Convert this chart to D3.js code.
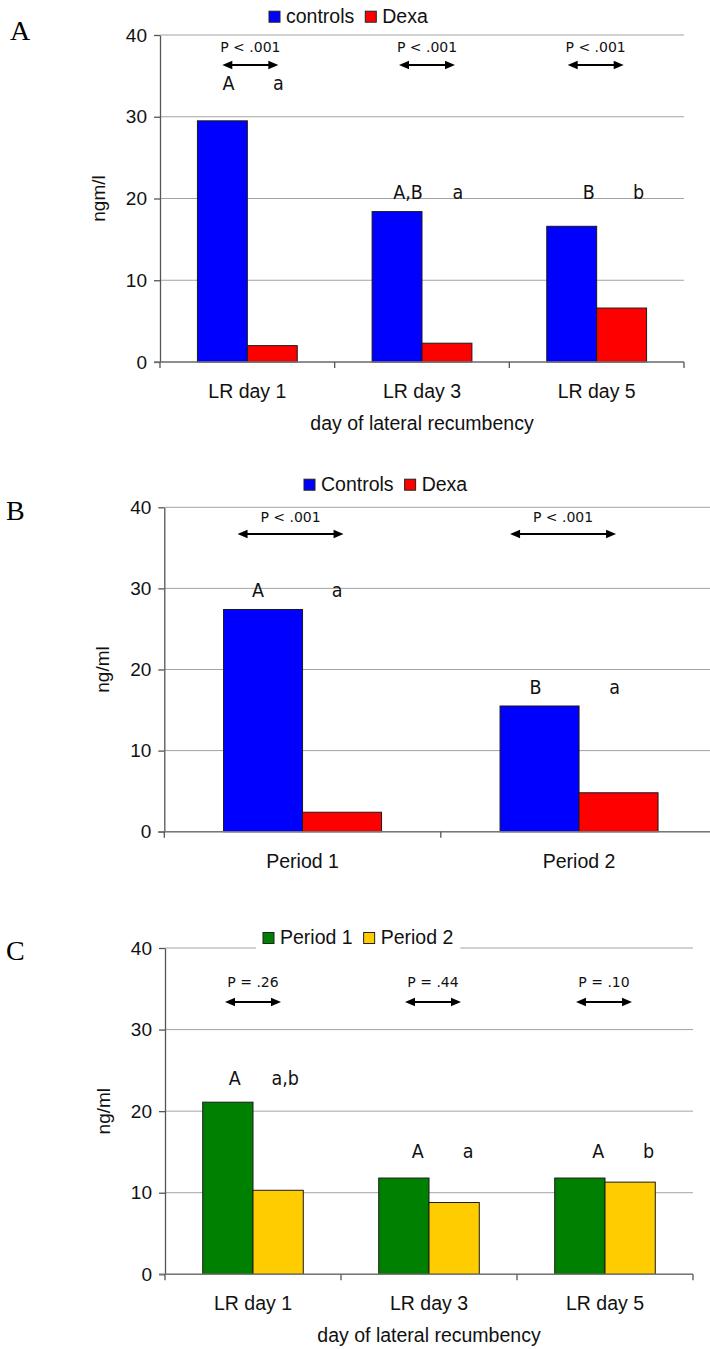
<!DOCTYPE html>
<html>
<head>
<meta charset="utf-8">
<script src="https://cdn.jsdelivr.net/npm/d3@7"></script>
<style>
  body { margin: 0; background: #fff; }
  svg { display: block; }
</style>
</head>
<body>
<svg id="fig" width="710" height="1349"></svg>
<script>
// ---- data ----
const yTicks = [0, 10, 20, 30, 40];

// Panel A: controls vs Dexa by day of lateral recumbency
const daysLR = ["LR day 1", "LR day 3", "LR day 5"];
const seriesA = ["controls", "Dexa"];
const controlsA = [29.5, 18.4, 16.6];
const dexaA = [2.0, 2.3, 6.6];
const lettersControlsA = ["A", "A,B", "B"];
const lettersDexaA = ["a", "a", "b"];
const pValuesA = ["P < .001", "P < .001", "P < .001"];

// Panel B: controls vs Dexa by period
const periods = ["Period 1", "Period 2"];
const seriesB = ["Controls", "Dexa"];
const controlsB = [27.4, 15.5];
const dexaB = [2.4, 4.8];
const lettersControlsB = ["A", "B"];
const lettersDexaB = ["a", "a"];
const pValuesB = ["P < .001", "P < .001"];

// Panel C: period 1 vs period 2 by day of lateral recumbency
const seriesC = ["Period 1", "Period 2"];
const period1C = [21.1, 11.8, 11.8];
const period2C = [10.3, 8.8, 11.3];
const lettersPeriod1C = ["A", "A", "A"];
const lettersPeriod2C = ["a,b", "a", "b"];
const pValuesC = ["P = .26", "P = .44", "P = .10"];

// ---- layout & styling ----
const SANS = "'Liberation Sans', Arial, sans-serif";
const COND = "'DejaVu Sans Condensed', 'DejaVu Sans', sans-serif";
const TAHOMA = "'DejaVu Sans', Verdana, sans-serif";
const SERIF = "'Liberation Serif', 'Times New Roman', serif";

const panels = [
  {
    tag: "A", tagX: 10, tagY: 40,
    left: 160, top: 35, width: 524, height: 327,
    categories: daysLR, series: seriesA, values: [controlsA, dexaA],
    letters: [lettersControlsA, lettersDexaA], pValues: pValuesA,
    colors: ["#0000ff", "#ff0000"],
    yTitle: "ngm/l", xTitle: "day of lateral recumbency",
    legendX: 269, legendY: 22.7, legendBg: false,
    letterLevel: [33.3, 20.0, 20.0], letterShift: [6, 11, 17],
    pDy: 16.7, arrowDy: 30, arrowShift: [3, 5, -1], arrowHalf: 28
  },
  {
    tag: "B", tagX: 6, tagY: 520,
    left: 164.3, top: 507.3, width: 553, height: 324.4,
    categories: periods, series: seriesB, values: [controlsB, dexaB],
    letters: [lettersControlsB, lettersDexaB], pValues: pValuesB,
    colors: ["#0000ff", "#ff0000"],
    yTitle: "ng/ml", xTitle: null,
    legendX: 304, legendY: 490.7, legendBg: false,
    letterLevel: [29.0, 17.0], letterShift: [-5, -4],
    pDy: 14.4, arrowDy: 26.7, arrowShift: [-12, -16], arrowHalf: 53
  },
  {
    tag: "C", tagX: 6, tagY: 960,
    left: 165, top: 948, width: 528, height: 326.3,
    categories: daysLR, series: seriesC, values: [period1C, period2C],
    letters: [lettersPeriod1C, lettersPeriod2C], pValues: pValuesC,
    colors: ["#008000", "#ffcc00"],
    yTitle: "ng/ml", xTitle: "day of lateral recumbency",
    legendX: 263, legendY: 944, legendBg: true,
    letterLevel: [23.2, 14.2, 14.2], letterShift: [7, 14, 18.5],
    pDy: 39.3, arrowDy: 54, arrowShift: [0, 4, -1], arrowHalf: 28
  }
];

const svg = d3.select("#fig");
svg.append("rect").attr("width", 710).attr("height", 1349).attr("fill", "#fff");

function drawArrow(g, xa, xb, yy) {
  const head = 10, hw = 4.3;
  g.append("line")
    .attr("x1", xa + head - 1).attr("x2", xb - head + 1)
    .attr("y1", yy).attr("y2", yy)
    .attr("stroke", "#000").attr("stroke-width", 2.2);
  g.append("path")
    .attr("d", `M${xa},${yy}L${xa + head},${yy - hw}L${xa + head},${yy + hw}Z`)
    .attr("fill", "#000");
  g.append("path")
    .attr("d", `M${xb},${yy}L${xb - head},${yy - hw}L${xb - head},${yy + hw}Z`)
    .attr("fill", "#000");
}

function drawPanel(cfg) {
  // panel tag
  svg.append("text")
    .attr("x", cfg.tagX).attr("y", cfg.tagY)
    .attr("font-family", SERIF).attr("font-size", 28)
    .text(cfg.tag);

  const g = svg.append("g").attr("transform", `translate(${cfg.left},${cfg.top})`);

  const x0 = d3.scaleBand().domain(cfg.categories).range([0, cfg.width]);
  const x1 = d3.scaleBand().domain(cfg.series).range([0, x0.bandwidth()]).paddingOuter(0.75);
  const y = d3.scaleLinear().domain([0, 40]).range([cfg.height, 0]);

  // horizontal gridlines
  g.append("g").selectAll("line").data(yTicks).join("line")
    .attr("x1", 0).attr("x2", cfg.width)
    .attr("y1", d => y(d)).attr("y2", d => y(d))
    .attr("stroke", "#a3a3a3").attr("stroke-width", 1);

  // bars
  const rows = cfg.categories.map((c, i) => ({
    cat: c, i,
    vals: cfg.series.map((s, j) => ({ s, j, v: cfg.values[j][i] }))
  }));
  const groups = g.append("g").selectAll("g").data(rows).join("g")
    .attr("transform", d => `translate(${x0(d.cat)},0)`);
  groups.selectAll("rect").data(d => d.vals).join("rect")
    .attr("x", d => x1(d.s))
    .attr("width", x1.bandwidth())
    .attr("y", d => y(d.v))
    .attr("height", d => y(0) - y(d.v))
    .attr("fill", d => cfg.colors[d.j])
    .attr("stroke", "#1a1a1a").attr("stroke-width", 1);

  // y axis
  const yAxis = g.append("g")
    .call(d3.axisLeft(y).tickValues(yTicks).tickSize(6).tickSizeOuter(0).tickPadding(7));
  yAxis.select(".domain").attr("stroke", "#555").attr("stroke-width", 1.3);
  yAxis.selectAll(".tick line").attr("stroke", "#555").attr("stroke-width", 1.3);
  yAxis.selectAll(".tick text")
    .attr("font-family", SANS).attr("font-size", 19).attr("fill", "#111");

  // x axis line with ticks at category boundaries
  const xAxis = g.append("g").attr("transform", `translate(0,${y(0)})`);
  xAxis.append("line")
    .attr("x1", -6).attr("x2", cfg.width).attr("y1", 0).attr("y2", 0)
    .attr("stroke", "#777").attr("stroke-width", 1.6);
  xAxis.selectAll(".btick").data(d3.range(cfg.categories.length + 1)).join("line")
    .attr("class", "btick")
    .attr("x1", i => i * x0.step()).attr("x2", i => i * x0.step())
    .attr("y1", 0).attr("y2", 6)
    .attr("stroke", "#555").attr("stroke-width", 1.3);
  xAxis.selectAll(".clabel").data(cfg.categories).join("text")
    .attr("class", "clabel")
    .attr("x", d => x0(d) + x0.bandwidth() / 2).attr("y", 36)
    .attr("text-anchor", "middle")
    .attr("font-family", SANS).attr("font-size", 19.5).attr("fill", "#111")
    .text(d => d);

  if (cfg.xTitle) {
    g.append("text")
      .attr("x", cfg.width / 2).attr("y", y(0) + 68)
      .attr("text-anchor", "middle")
      .attr("font-family", SANS).attr("font-size", 19.5).attr("fill", "#111")
      .text(cfg.xTitle);
  }

  // y title
  g.append("text")
    .attr("transform", `translate(-55,${cfg.height / 2}) rotate(-90)`)
    .attr("text-anchor", "middle")
    .attr("font-family", SANS).attr("font-size", 19).attr("fill", "#111")
    .text(cfg.yTitle);

  // significance letters above each bar
  rows.forEach(r => {
    r.vals.forEach(v => {
      g.append("text")
        .attr("x", x0(r.cat) + x1(v.s) + x1.bandwidth() / 2 + cfg.letterShift[r.i])
        .attr("y", y(cfg.letterLevel[r.i]))
        .attr("text-anchor", "middle")
        .attr("font-family", COND).attr("font-stretch", "condensed")
        .attr("font-size", 19.5).attr("fill", "#111")
        .text(cfg.letters[v.j][r.i]);
    });
  });

  // P-value labels with double-headed arrows
  rows.forEach(r => {
    const cx = x0(r.cat) + x0.bandwidth() / 2 + cfg.arrowShift[r.i];
    g.append("text")
      .attr("x", cx).attr("y", cfg.pDy)
      .attr("text-anchor", "middle")
      .attr("font-family", TAHOMA).attr("font-size", 14).attr("fill", "#111")
      .text(cfg.pValues[r.i]);
    drawArrow(g, cx - cfg.arrowHalf, cx + cfg.arrowHalf, cfg.arrowDy);
  });

  // legend
  const lg = svg.append("g");
  const bg = lg.append("rect").attr("fill", "#fff");
  let lx = cfg.legendX;
  cfg.series.forEach((s, j) => {
    lg.append("rect")
      .attr("x", lx).attr("y", cfg.legendY - 11.5)
      .attr("width", 11).attr("height", 11)
      .attr("fill", cfg.colors[j]).attr("stroke", "#222").attr("stroke-width", 1);
    const t = lg.append("text")
      .attr("x", lx + 17).attr("y", cfg.legendY)
      .attr("font-family", SANS).attr("font-size", 19.5).attr("fill", "#111")
      .text(s);
    lx = lx + 17 + t.node().getComputedTextLength() + 11;
  });
  if (cfg.legendBg) {
    bg.attr("x", cfg.legendX - 7).attr("y", cfg.legendY - 20)
      .attr("width", lx - cfg.legendX + 3).attr("height", 28);
  } else {
    bg.remove();
  }
}

panels.forEach(drawPanel);
</script>
</body>
</html>
